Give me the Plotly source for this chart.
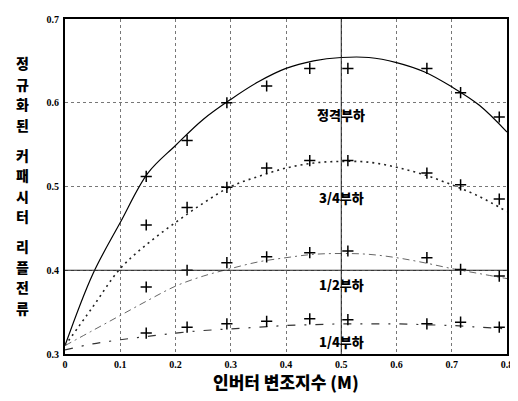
import plotly.graph_objects as go

# curve samples
curve_x = [0, 0.05, 0.1, 0.15, 0.2, 0.25, 0.3, 0.35, 0.4, 0.45, 0.5, 0.55, 0.6, 0.65, 0.7, 0.75, 0.8]
rated_line = [0.31, 0.395, 0.457, 0.516, 0.549, 0.58, 0.604, 0.625, 0.641, 0.65, 0.654, 0.654, 0.648, 0.637, 0.619, 0.597, 0.565]
q3_line = [0.31, 0.356, 0.402, 0.432, 0.457, 0.48, 0.5, 0.512, 0.522, 0.528, 0.53, 0.529, 0.523, 0.514, 0.502, 0.488, 0.47]
half_line = [0.31, 0.328, 0.346, 0.364, 0.381, 0.393, 0.402, 0.41, 0.415, 0.419, 0.42, 0.419, 0.415, 0.409, 0.402, 0.396, 0.39]
q1_line = [0.305, 0.312, 0.317, 0.321, 0.325, 0.328, 0.33, 0.332, 0.334, 0.335, 0.336, 0.336, 0.336, 0.335, 0.334, 0.332, 0.33]

# measured points (+)
meas_x = [0.147, 0.221, 0.293, 0.365, 0.443, 0.512, 0.655, 0.716, 0.786]
rated_pts = [0.512, 0.555, 0.600, 0.620, 0.641, 0.641, 0.641, 0.612, 0.583]
q3_pts = [0.454, 0.475, 0.499, 0.522, 0.531, 0.531, 0.516, 0.502, 0.485]
half_pts = [0.380, 0.400, 0.409, 0.416, 0.421, 0.423, 0.415, 0.401, 0.393]
q1_pts = [0.325, 0.332, 0.336, 0.339, 0.342, 0.341, 0.336, 0.338, 0.332]

labels = ['정격부하', '3/4부하', '1/2부하', '1/4부하']
label_y = [0.586, 0.487, 0.383, 0.315]

x_ticks = [0, 0.1, 0.2, 0.3, 0.4, 0.5, 0.6, 0.7, 0.8]
x_ticktext = ['0', '0.1', '0.2', '0.3', '0.4', '0.5', '0.6', '0.7', '0.8']
y_ticks = [0.3, 0.4, 0.5, 0.6, 0.7]
y_ticktext = ['0.3', '0.4', '0.5', '0.6', '0.7']

y_title_words = ['정규화된', '커패시터', '리플전류']
x_title = '인버터 변조지수 (M)'

fig = go.Figure()

styles = [
    dict(color='black', width=1.2, dash='solid'),
    dict(color='#222222', width=1.6, dash='2px,4px'),
    dict(color='#666666', width=1, dash='7px,4px,2px,4px'),
    dict(color='#333333', width=1.2, dash='8px,9px,2px,9px'),
]
for ys, st in zip([rated_line, q3_line, half_line, q1_line], styles):
    fig.add_scatter(x=curve_x, y=ys, mode='lines', line_shape='spline', line=st)

for ys in [rated_pts, q3_pts, half_pts, q1_pts]:
    fig.add_scatter(x=meas_x, y=ys, mode='markers',
                    marker=dict(symbol='cross-thin', size=8, line=dict(color='black', width=1.5)))

for t, yv in zip(labels, label_y):
    fig.add_annotation(x=0.5, y=yv, text=t, showarrow=False,
                       font=dict(family='Noto Sans CJK KR', size=13, color='black', weight=900))

# darker grid lines seen in the scan
fig.add_hline(y=0.4, line=dict(color='#222222', width=1))
fig.add_vline(x=0.5, line=dict(color='#222222', width=1))

# page body has an 8px margin, so the figure is a bit smaller than the window
W, H = 510, 393
T, B = 5, 47
plot_h = H - T - B

# y title: upright characters stacked in a column
pos = 45
for w in y_title_words:
    for c in w:
        fig.add_annotation(x=-0.097, y=1 - pos / plot_h, xref='paper', yref='paper', text=c,
                           showarrow=False, xanchor='center', yanchor='middle', borderpad=0,
                           font=dict(family='Noto Sans CJK KR', size=14, color='black', weight=900))
        pos += 21
    pos += 9

fig.add_annotation(x=0.5, y=-28 / plot_h, xref='paper', yref='paper', text=x_title,
                   showarrow=False, xanchor='center', yanchor='middle',
                   font=dict(family='Noto Sans CJK KR', size=17, color='black', weight=900))

fig.update_layout(
    width=W, height=H,
    margin=dict(l=57, r=7, t=T, b=B),
    plot_bgcolor='white', paper_bgcolor='white',
    showlegend=False,
    xaxis=dict(range=[0, 0.8], tickvals=x_ticks, ticktext=x_ticktext,
               showgrid=True, gridcolor='#777777', griddash='dot', gridwidth=1,
               showline=True, linecolor='black', linewidth=2, mirror=True,
               ticks='', zeroline=False, ticklabelstandoff=0,
               tickfont=dict(family='Liberation Serif', size=10, color='black', weight='bold')),
    yaxis=dict(range=[0.3, 0.7], tickvals=y_ticks, ticktext=y_ticktext,
               showgrid=True, gridcolor='#777777', griddash='dot', gridwidth=1,
               showline=True, linecolor='black', linewidth=2, mirror=True,
               ticks='', zeroline=False, ticklabelstandoff=2,
               tickfont=dict(family='Liberation Serif', size=10, color='black', weight='bold')),
)

fig.write_html('out.html')
